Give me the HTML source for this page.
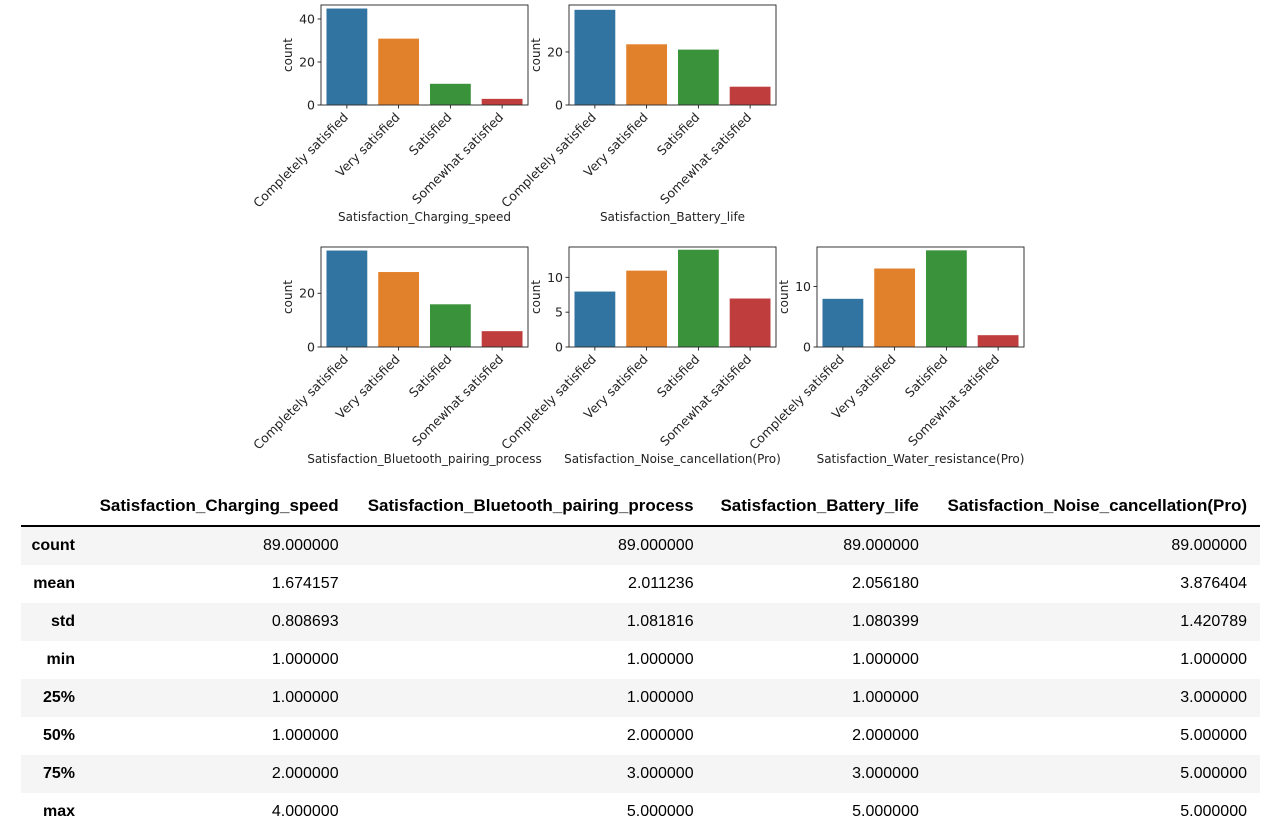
<!DOCTYPE html>
<html><head><meta charset="utf-8">
<style>
body{margin:0;background:#fff;width:1275px;height:823px;overflow:hidden;position:relative;font-family:"Liberation Sans",Arial,sans-serif;}
#charts{position:absolute;left:0;top:0;}
table{position:absolute;left:21px;top:487px;width:1239px;border-collapse:collapse;font-size:16px;color:#000;}
th{font-weight:bold;text-align:right;padding:0 13px 0 10px;height:38px;border-bottom:2px solid #000;font-size:17px;}
td{text-align:right;height:38px;padding:0 13px 0 10px;}
td.idx{font-weight:bold;width:44px;padding-right:10px;}
tr.g td{background:#f5f5f5;}
</style></head><body>
<svg id="charts" width="1275" height="480" xmlns="http://www.w3.org/2000/svg"></svg>
<table>
<thead><tr><th></th><th>Satisfaction_Charging_speed</th><th>Satisfaction_Bluetooth_pairing_process</th><th>Satisfaction_Battery_life</th><th>Satisfaction_Noise_cancellation(Pro)</th></tr></thead>
<tbody>
<tr class="g"><td class="idx">count</td><td>89.000000</td><td>89.000000</td><td>89.000000</td><td>89.000000</td></tr>
<tr><td class="idx">mean</td><td>1.674157</td><td>2.011236</td><td>2.056180</td><td>3.876404</td></tr>
<tr class="g"><td class="idx">std</td><td>0.808693</td><td>1.081816</td><td>1.080399</td><td>1.420789</td></tr>
<tr><td class="idx">min</td><td>1.000000</td><td>1.000000</td><td>1.000000</td><td>1.000000</td></tr>
<tr class="g"><td class="idx">25%</td><td>1.000000</td><td>1.000000</td><td>1.000000</td><td>3.000000</td></tr>
<tr><td class="idx">50%</td><td>1.000000</td><td>2.000000</td><td>2.000000</td><td>5.000000</td></tr>
<tr class="g"><td class="idx">75%</td><td>2.000000</td><td>3.000000</td><td>3.000000</td><td>5.000000</td></tr>
<tr><td class="idx">max</td><td>4.000000</td><td>5.000000</td><td>5.000000</td><td>5.000000</td></tr>
</tbody></table>
<script>
const categories = ["Completely satisfied","Very satisfied","Satisfied","Somewhat satisfied"];
const chargingValues = [45,31,10,3];
const batteryValues = [36,23,21,7];
const bluetoothValues = [36,28,16,6];
const noiseValues = [8,11,14,7];
const waterValues = [8,13,16,2];
const chargingTicks = [0,20,40];
const batteryTicks = [0,20];
const bluetoothTicks = [0,20];
const noiseTicks = [0,5,10];
const waterTicks = [0,10];
const titles = ["Satisfaction_Charging_speed","Satisfaction_Battery_life","Satisfaction_Bluetooth_pairing_process","Satisfaction_Noise_cancellation(Pro)","Satisfaction_Water_resistance(Pro)"];
const colors = ["#3274a1","#e1812c","#3a923a","#c03d3e"];

const NS="http://www.w3.org/2000/svg";
const svg=document.getElementById('charts');
const FF='DejaVu Sans, sans-serif';
function mk(tag,attrs,parent){const e=document.createElementNS(NS,tag);for(const k in attrs)e.setAttribute(k,attrs[k]);(parent||svg).appendChild(e);return e;}
const panels=[
 {x:321,y:5,vals:chargingValues,ticks:chargingTicks,max:46.5,t:titles[0],n:'charging-speed'},
 {x:569,y:5,vals:batteryValues,ticks:batteryTicks,max:37.7,t:titles[1],n:'battery-life'},
 {x:321,y:247,vals:bluetoothValues,ticks:bluetoothTicks,max:37.2,t:titles[2],n:'bluetooth-pairing'},
 {x:569,y:247,vals:noiseValues,ticks:noiseTicks,max:14.35,t:titles[3],n:'noise-cancellation'},
 {x:817,y:247,vals:waterValues,ticks:waterTicks,max:16.5,t:titles[4],n:'water-resistance'}];
const W=207,H=100;
panels.forEach(p=>{
 const g=mk('g',{});
 
 
 const ys=v=>p.y+H-v/p.max*H;
 const band=W/categories.length;
 p.vals.forEach((v,i)=>{
  const r=mk('rect',{x:p.x+band*i+band*0.1,y:ys(v),width:band*0.8,height:p.y+H-ys(v),fill:colors[i],stroke:'#fff','stroke-width':0.6},g);
  
  
  const cx=p.x+band*(i+0.5);
  mk('line',{x1:cx,x2:cx,y1:p.y+H,y2:p.y+H+3.5,stroke:'#000','stroke-width':0.8},g);
  const ax=cx+2, ay=p.y+H+13;
  const t=mk('text',{x:ax,y:ay,'font-size':12.5,'font-family':FF,'text-anchor':'end',fill:'#222',transform:`rotate(-45 ${ax} ${ay})`},g);
  t.textContent=categories[i];
  
  
 });
 p.ticks.forEach(tv=>{
  const y=ys(tv);
  mk('line',{x1:p.x-3.5,x2:p.x,y1:y,y2:y,stroke:'#000','stroke-width':0.8},g);
  const t=mk('text',{x:p.x-6,y:y+4.5,'font-size':12.5,'font-family':FF,'text-anchor':'end',fill:'#222'},g);
  t.textContent=tv;
  
  
 });
 mk('rect',{x:p.x,y:p.y,width:W,height:H,fill:'none',stroke:'#222','stroke-width':0.9},g);
 const lx=p.x-(p.ticks[p.ticks.length-1]>=10?29:22);
 const yl=mk('text',{x:lx,y:p.y+H/2,'font-size':12,'font-family':FF,'text-anchor':'middle',fill:'#222',transform:`rotate(-90 ${lx} ${p.y+H/2})`},g);
 yl.textContent='count';
 
 
 const xl=mk('text',{x:p.x+W/2,y:p.y+H+116,'font-size':12,'font-family':FF,'text-anchor':'middle',fill:'#222'},g);
 xl.textContent=p.t;
 
 
});
</script>
</body></html>
